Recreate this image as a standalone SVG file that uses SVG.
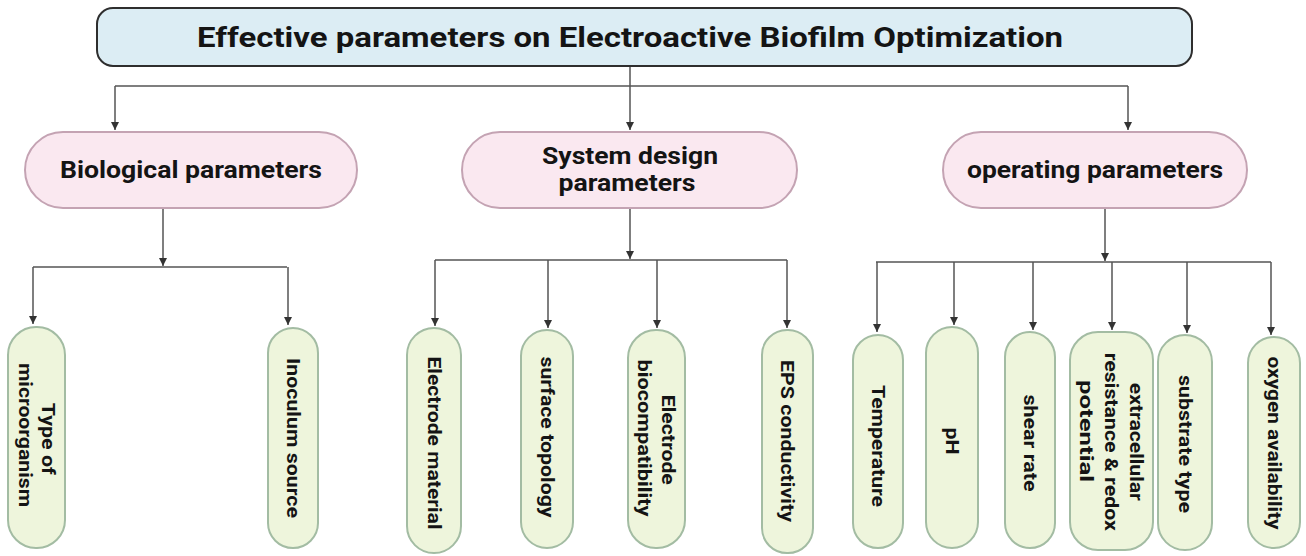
<svg xmlns="http://www.w3.org/2000/svg" width="1306" height="556" viewBox="0 0 1306 556">
<style>
  .bg { fill: #ffffff; }
  .top { fill: #dcedf4; stroke: #2e2e2e; stroke-width: 2; }
  .mid { fill: #fae8f0; stroke: #c4a3b3; stroke-width: 2; }
  .leaf { fill: #eef5dc; stroke: #a3bca3; stroke-width: 2; }
  .conn { fill: none; stroke: #555555; stroke-width: 1.5; }
  .arr { marker-end: url(#ah); }
  text { font-family: Roboto, "Liberation Sans", Arial, sans-serif; font-weight: bold; fill: #141414; }
  .t1 { font-size: 28px; }
  .t2 { font-size: 24px; }
  .t3 { font-size: 18px; }
</style>
<defs>
  <marker id="ah" viewBox="0 0 10 10" refX="10" refY="5" markerWidth="8" markerHeight="9" markerUnits="userSpaceOnUse" orient="auto">
    <path d="M0,0 L10,5 L0,10 z" fill="#333333"/>
  </marker>
</defs>
<rect class="bg" x="0" y="0" width="1306" height="556"/>

<g id="connectors">
  <path class="conn" d="M630 66 V86 M115 86 H1128"/>
  <path class="conn arr" d="M115 86 V130"/>
  <path class="conn arr" d="M630 86 V130"/>
  <path class="conn arr" d="M1128 86 V130"/>

  <path class="conn arr" d="M163 209 V266"/>
  <path class="conn" d="M33 267 H287"/>
  <path class="conn arr" d="M33 267 V324"/>
  <path class="conn arr" d="M288 267 V325"/>

  <path class="conn arr" d="M630 209 V259"/>
  <path class="conn" d="M435 260 H787"/>
  <path class="conn arr" d="M435 260 V326"/>
  <path class="conn arr" d="M548 260 V328"/>
  <path class="conn arr" d="M657 260 V328"/>
  <path class="conn arr" d="M787 260 V328"/>

  <path class="conn arr" d="M1105 209 V261"/>
  <path class="conn" d="M876 262 H1271"/>
  <path class="conn arr" d="M877 262 V332"/>
  <path class="conn arr" d="M954 262 V325"/>
  <path class="conn arr" d="M1033 262 V330"/>
  <path class="conn arr" d="M1112 262 V330"/>
  <path class="conn arr" d="M1187 262 V333"/>
  <path class="conn arr" d="M1271 262 V335"/>
</g>

<g id="root">
  <rect class="top" x="97" y="8" width="1095" height="58" rx="16"/>
  <text class="t1" x="630" y="47" text-anchor="middle" textLength="866" lengthAdjust="spacingAndGlyphs">Effective parameters on Electroactive Biofilm Optimization</text>
</g>

<g id="biological">
  <rect class="mid" x="25" y="132" width="332" height="76" rx="38"/>
  <text class="t2" x="191" y="178" text-anchor="middle" textLength="262" lengthAdjust="spacingAndGlyphs">Biological parameters</text>
</g>
<g id="system">
  <rect class="mid" x="462" y="132" width="335" height="76" rx="38"/>
  <text class="t2" x="630" y="164" text-anchor="middle" textLength="176" lengthAdjust="spacingAndGlyphs">System design</text>
  <text class="t2" x="627" y="191" text-anchor="middle" textLength="137" lengthAdjust="spacingAndGlyphs">parameters</text>
</g>
<g id="operating">
  <rect class="mid" x="943" y="132" width="304" height="76" rx="38"/>
  <text class="t2" x="1095" y="178" text-anchor="middle" textLength="256" lengthAdjust="spacingAndGlyphs">operating parameters</text>
</g>

<g id="type-of-microorganism">
  <rect class="leaf" x="8" y="327" width="57" height="221" rx="28"/>
  <text class="t3" transform="translate(37 438) rotate(90)" text-anchor="middle">
    <tspan x="3" y="-5" textLength="72" lengthAdjust="spacingAndGlyphs">Type of</tspan>
    <tspan x="-3" y="18" textLength="144" lengthAdjust="spacingAndGlyphs">microorganism</tspan>
  </text>
</g>
<g id="inoculum-source">
  <rect class="leaf" x="268" y="328" width="50" height="220" rx="25"/>
  <text class="t3" transform="translate(293 438) rotate(90)" text-anchor="middle" y="6" textLength="160" lengthAdjust="spacingAndGlyphs">Inoculum source</text>
</g>
<g id="electrode-material">
  <rect class="leaf" x="407" y="328" width="54" height="225" rx="27"/>
  <text class="t3" transform="translate(434 443) rotate(90)" text-anchor="middle" y="6" textLength="173" lengthAdjust="spacingAndGlyphs">Electrode material</text>
</g>
<g id="surface-topology">
  <rect class="leaf" x="521" y="330" width="52" height="218" rx="26"/>
  <text class="t3" transform="translate(547 437) rotate(90)" text-anchor="middle" y="6" textLength="161" lengthAdjust="spacingAndGlyphs">surface topology</text>
</g>
<g id="electrode-biocompatibility">
  <rect class="leaf" x="628" y="330" width="57" height="218" rx="28"/>
  <text class="t3" transform="translate(656 440) rotate(90)" text-anchor="middle">
    <tspan x="2" y="-6" textLength="90" lengthAdjust="spacingAndGlyphs">Electrode</tspan>
    <tspan x="-2" y="18" textLength="157" lengthAdjust="spacingAndGlyphs">biocompatibility</tspan>
  </text>
</g>
<g id="eps-conductivity">
  <rect class="leaf" x="762" y="330" width="51" height="223" rx="25"/>
  <text class="t3" transform="translate(787 441) rotate(90)" text-anchor="middle" y="6" textLength="162" lengthAdjust="spacingAndGlyphs">EPS conductivity</text>
</g>
<g id="temperature">
  <rect class="leaf" x="853" y="335" width="50" height="213" rx="25"/>
  <text class="t3" transform="translate(878 446) rotate(90)" text-anchor="middle" y="6" textLength="122" lengthAdjust="spacingAndGlyphs">Temperature</text>
</g>
<g id="ph">
  <rect class="leaf" x="926" y="327" width="52" height="221" rx="26"/>
  <text class="t3" transform="translate(952 441) rotate(90)" text-anchor="middle" y="6" textLength="27" lengthAdjust="spacingAndGlyphs">pH</text>
</g>
<g id="shear-rate">
  <rect class="leaf" x="1005" y="332" width="50" height="216" rx="25"/>
  <text class="t3" transform="translate(1030 443) rotate(90)" text-anchor="middle" y="6" textLength="97" lengthAdjust="spacingAndGlyphs">shear rate</text>
</g>
<g id="extracellular-resistance">
  <rect class="leaf" x="1070" y="332" width="83" height="218" rx="28"/>
  <text class="t3" transform="translate(1111 441) rotate(90)" text-anchor="middle">
    <tspan x="3" y="-19" textLength="118" lengthAdjust="spacingAndGlyphs">extracellular</tspan>
    <tspan x="3" y="6" textLength="178" lengthAdjust="spacingAndGlyphs">resistance &amp; redox</tspan>
    <tspan x="-10" y="31" textLength="102" lengthAdjust="spacingAndGlyphs">potential</tspan>
  </text>
</g>
<g id="substrate-type">
  <rect class="leaf" x="1158" y="335" width="54" height="215" rx="27"/>
  <text class="t3" transform="translate(1185 444) rotate(90)" text-anchor="middle" y="6" textLength="138" lengthAdjust="spacingAndGlyphs">substrate type</text>
</g>
<g id="oxygen-availability">
  <rect class="leaf" x="1248" y="337" width="52" height="211" rx="26"/>
  <text class="t3" transform="translate(1274 443) rotate(90)" text-anchor="middle" y="6" textLength="173" lengthAdjust="spacingAndGlyphs">oxygen availability</text>
</g>
</svg>
